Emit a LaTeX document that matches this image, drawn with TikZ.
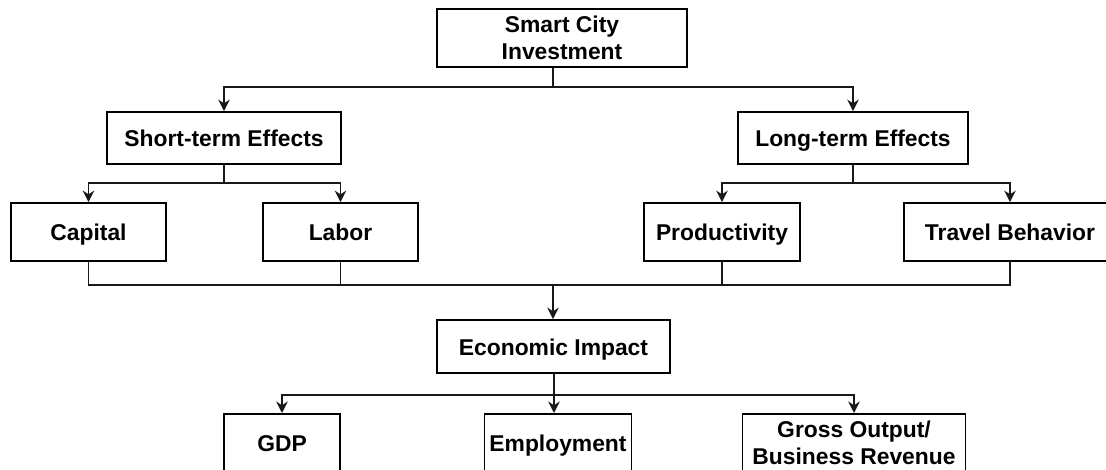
\documentclass[tikz,border=0pt]{standalone}
\usepackage{fontspec}
\setmainfont{Liberation Sans}
\usepackage{tikz}
\usetikzlibrary{arrows.meta, positioning, calc}
\tikzset{
  % box and connector styles
  box/.style={rectangle, draw=black, line width=1.1pt, fill=white, align=center, text centered, font=\fontsize{13}{15.5}\selectfont\bfseries, inner sep=1pt},
  oneline/.style={box, text height=0.98em, text depth=0em},
  link/.style={line width=1.1pt, draw=black!90},
  arrow/.style={link, -{Stealth[length=6.5pt, width=6.5pt]}},
}
\begin{document}
\begin{tikzpicture}[x=0.02cm, y=-0.02cm]
    \useasboundingbox (0,0) rectangle (1106,470);
    \clip (0,0) rectangle (1106,470);
    % Top level
    \node[box, minimum width=5cm, minimum height=1.16cm] (smart) at (562,38) {Smart City\\Investment};
    % Effects
    \node[oneline, minimum width=4.68cm, minimum height=1.04cm] (short) at (224,138) {Short-term Effects};
    \node[oneline, minimum width=4.6cm, minimum height=1.04cm] (long) at (853,138) {Long-term Effects};
    % Factors
    \node[oneline, minimum width=3.1cm, minimum height=1.16cm] (capital) at (88.5,232) {Capital};
    \node[oneline, minimum width=3.1cm, minimum height=1.16cm] (labor) at (340.5,232) {Labor};
    \node[oneline, minimum width=3.12cm, minimum height=1.16cm] (prod) at (722,232) {Productivity};
    \node[oneline, minimum width=4.24cm, minimum height=1.16cm] (travel) at (1010,232) {Travel Behavior};
    % Impact
    \node[oneline, minimum width=4.66cm, minimum height=1.06cm] (econ) at (553.5,346.5) {Economic Impact};
    % Outcomes (cut off at the bottom)
    \node[oneline, minimum width=2.32cm, minimum height=1.16cm, anchor=north] (gdp) at (282,413) {GDP};
    \node[oneline, minimum width=2.94cm, minimum height=1.16cm, anchor=north] (emp) at (558,413) {Employment};
    \node[box, minimum width=4.46cm, minimum height=1.16cm, anchor=north] (gross) at (854,413) {Gross Output/\\Business Revenue};
    % Junctions
    \coordinate (j1) at (553,87);
    \coordinate (j2) at (224,183);
    \coordinate (j3) at (853,183);
    \coordinate (j4) at (553,285);
    \coordinate (j5) at (554,395);
    % Smart City -> effects
    \draw[link] (smart.south -| j1) -- (j1);
    \draw[arrow] (j1) -| (short.north);
    \draw[arrow] (j1) -| (long.north);
    % Short-term -> capital, labor
    \draw[link] (short.south) -- (j2);
    \draw[arrow] (j2) -| (capital.north);
    \draw[arrow] (j2) -| (labor.north);
    % Long-term -> productivity, travel
    \draw[link] (long.south) -- (j3);
    \draw[arrow] (j3) -| (prod.north);
    \draw[arrow] (j3) -| (travel.north);
    % Collecting bus
    \draw[link] (capital.south) |- (j4);
    \draw[link] (labor.south) -- (labor.south |- j4);
    \draw[link] (prod.south) -- (prod.south |- j4);
    \draw[link] (travel.south) |- (j4);
    \draw[arrow] (j4) -- (econ.north -| j4);
    % Economic impact -> outcomes
    \draw[link] (econ.south -| j5) -- (j5);
    \draw[arrow] (j5) -| (gdp.north);
    \draw[arrow] (j5) -- (j5 |- emp.north);
    \draw[arrow] (j5) -| (gross.north);
  \end{tikzpicture}
\end{document}
